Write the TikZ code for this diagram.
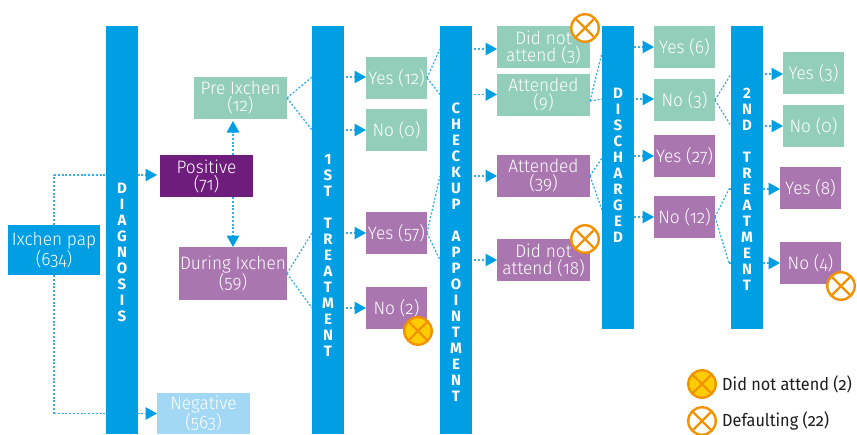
\documentclass[tikz,border=0pt]{standalone}
\usepackage{fontspec}
\setmainfont{Fira Sans}[Numbers=OldStyle,UprightFont={* Light},FakeStretch=0.96]
\newfontfamily\barfont{Fira Sans}[UprightFont={* Bold}]
\newfontfamily\legendfont{Fira Sans}[Numbers=OldStyle,FakeStretch=0.93]
\usetikzlibrary{arrows.meta}
\definecolor{cblue}{HTML}{009FE3}
\definecolor{cline}{HTML}{33B0E8}
\definecolor{cteal}{HTML}{93CEBB}
\definecolor{cpurple}{HTML}{A976B0}
\definecolor{cdark}{HTML}{6F1D7D}
\definecolor{clight}{HTML}{A3D8F5}
\definecolor{corange}{HTML}{F39200}
\definecolor{cyellow}{HTML}{FFCC00}
\definecolor{cink}{HTML}{1D1D1B}
\tikzset{
  x=1pt,y=-1pt,
  wh/.style 2 args={minimum width=#1pt,minimum height=#2pt},
  boxbase/.style={anchor=center,inner sep=0pt,outer sep=0pt,text=white,align=center,
    font=\fontsize{18}{17}\selectfont},
  tealbox/.style={boxbase,fill=cteal},
  purplebox/.style={boxbase,fill=cpurple},
  darkbox/.style={boxbase,fill=cdark},
  bluebox/.style={boxbase,fill=cblue},
  lightbox/.style={boxbase,fill=clight},
  barbox/.style={fill=cblue,inner sep=0pt,outer sep=0pt,minimum width=32pt,text width=32pt},
  bartext/.style={inner sep=0pt,outer sep=0pt,text=white,align=center,
    font=\barfont\fontsize{15}{16}\selectfont},
  link/.style={draw=cline,line width=1.3pt,dash pattern=on 2pt off 1.8pt},
  tip/.style={-{Triangle[length=11.5pt,width=12.5pt,color=cblue]}},
  xcircle/.style={circle,draw=corange,line width=2.4pt,minimum size=27.5pt,inner sep=0pt,
    path picture={\draw[corange,line width=2.2pt]
      (path picture bounding box.north west)--(path picture bounding box.south east)
      (path picture bounding box.north east)--(path picture bounding box.south west);}},
  openx/.style={xcircle,fill=white},
  fullx/.style={xcircle,fill=cyellow},
  legendtext/.style={anchor=west,inner sep=0pt,text=cink,font=\legendfont\fontsize{17.5}{17}\selectfont},
}
\begin{document}
\begin{tikzpicture}
\useasboundingbox (0,0) rectangle (857,434);
% boxes
\node[bluebox,wh={92}{50}] (pap) at (54,250) {Ixchen pap\\(634)};
\node[darkbox,wh={93}{42}] (pos) at (206.5,176) {Positive\\(71)};
\node[tealbox,wh={93}{42}] (pre) at (240.5,98) {Pre Ixchen\\(12)};
\node[purplebox,wh={108}{53}] (dur) at (233,273.5) {During Ixchen\\(59)};
\node[lightbox,wh={93}{41}] (neg) at (203.5,413.5) {Negative\\(563)};
\node[tealbox,wh={61}{42}] (y12) at (396.5,78) {Yes (12)};
\node[tealbox,wh={61}{42}] (n0a) at (396.5,130) {No (0)};
\node[purplebox,wh={61}{42}] (y57) at (396.5,233) {Yes (57)};
\node[purplebox,wh={61}{42}] (n2) at (396.5,308) {No (2)};
\node[tealbox,wh={93}{42}] (dna3) at (543.5,47) {Did not\\attend (3)};
\node[tealbox,wh={93}{42}] (att9) at (543.5,95) {Attended\\(9)};
\node[purplebox,wh={93}{42}] (att39) at (543.5,176) {Attended\\(39)};
\node[purplebox,wh={93}{42}] (dna18) at (543.5,260) {Did not\\attend (18)};
\node[tealbox,wh={61}{42}] (y6) at (684.5,47) {Yes (6)};
\node[tealbox,wh={61}{42}] (n3) at (684.5,100) {No (3)};
\node[purplebox,wh={61}{42}] (y27) at (684.5,156) {Yes (27)};
\node[purplebox,wh={61}{42}] (n12) at (684.5,217) {No (12)};
\node[tealbox,wh={61}{42}] (y3) at (813.5,73) {Yes (3)};
\node[tealbox,wh={61}{42}] (n0b) at (813.5,126) {No (0)};
\node[purplebox,wh={61}{42}] (y8) at (810.5,188) {Yes (8)};
\node[purplebox,wh={61}{42}] (n4) at (810.5,263) {No (4)};
% bend points of the connectors
\coordinate (a1) at (54,175);
\coordinate (a2) at (54,413.5);
\coordinate (tpos) at (157,175);
\coordinate (tneg) at (157,413.5);
\coordinate (tpre) at (233,121);
\coordinate (tdur) at (233,247);
\coordinate (spu) at (233,155);
\coordinate (spd) at (233,197);
\coordinate (b1) at (312,77);
\coordinate (b2) at (312,130);
\coordinate (b3) at (312,233);
\coordinate (b4) at (312,308);
\coordinate (c1) at (440,49);
\coordinate (c2) at (440,94.5);
\coordinate (c3) at (440,176);
\coordinate (c4) at (440,260);
\coordinate (d1) at (602,53);
\coordinate (d2) at (602,99);
\coordinate (d3) at (602,158);
\coordinate (d4) at (602,210);
\coordinate (d1r) at (634,47);
\coordinate (d3r) at (634,156);
\coordinate (d4r) at (634,217);
\coordinate (e1) at (731,74);
\coordinate (e2) at (731,126);
\coordinate (e3) at (729,189);
\coordinate (e4) at (729,263);
% connectors
\draw[link] (pap.north) -- (a1);
\draw[link,tip] (a1) -- (tpos);
\draw[link] (pap.south) -- (a2);
\draw[link,tip] (a2) -- (tneg);
\draw[link,tip] (spu) -- (tpre);
\draw[link,tip] (spd) -- (tdur);
\draw[link] (pre.east) -- (b1);
\draw[link,tip] (b1) -- (y12.west |- b1);
\draw[link] (pre.east) -- (b2);
\draw[link,tip] (b2) -- (n0a.west);
\draw[link] (dur.east) -- (b3);
\draw[link,tip] (b3) -- (y57.west);
\draw[link] (dur.east) -- (b4);
\draw[link,tip] (b4) -- (n2.west);
\draw[link] (y12.east) -- (c1);
\draw[link,tip] (c1) -- (dna3.west |- c1);
\draw[link] (y12.east) -- (c2);
\draw[link,tip] (c2) -- (att9.west |- c2);
\draw[link] (y57.east) -- (c3);
\draw[link,tip] (c3) -- (att39.west);
\draw[link] (y57.east) -- (c4);
\draw[link,tip] (c4) -- (dna18.west);
\draw[link] ([yshift=-6pt]att9.east) -- (d1);
\draw[link,tip] (d1r) -- (y6.west);
\draw[link] ([yshift=-6pt]att9.east) -- (d2);
\draw[link,tip] (d2) -- (n3.west |- d2);
\draw[link] (att39.east) -- (d3);
\draw[link,tip] (d3r) -- (y27.west);
\draw[link] (att39.east) -- (d4);
\draw[link,tip] (d4r) -- (n12.west);
\draw[link] (n3.east) -- (e1);
\draw[link,tip] (e1) -- (y3.west |- e1);
\draw[link] (n3.east) -- (e2);
\draw[link,tip] (e2) -- (n0b.west);
\draw[link] (n12.east) -- (e3);
\draw[link,tip] (e3) -- (y8.west |- e3);
\draw[link] (n12.east) -- (e4);
\draw[link,tip] (e4) -- (n4.west);
% bars, over the connectors
\node[barbox,minimum height=408pt] (diag) at (122,230) {};
\node[barbox,minimum height=408pt] (first) at (328,230) {};
\node[barbox,minimum height=408pt] (check) at (456,230) {};
\node[barbox,minimum height=303pt] (disc) at (618,177.5) {};
\node[barbox,minimum height=303pt] (second) at (747,177.5) {};
\node[bartext] (diagt) at (122,252) {D\\I\\A\\G\\N\\O\\S\\I\\S};
\node[bartext] (firstt) at (328,255) {1\\S\\T\\[16pt]T\\R\\E\\A\\T\\M\\E\\N\\T};
\node[bartext] (checkt) at (456,252) {C\\H\\E\\C\\K\\U\\P\\[16pt]A\\P\\P\\O\\I\\N\\T\\M\\E\\N\\T};
\node[bartext] (disct) at (618,165) {D\\I\\S\\C\\H\\A\\R\\G\\E\\D};
\node[bartext] (secondt) at (747,189) {2\\N\\D\\[16pt]T\\R\\E\\A\\T\\M\\E\\N\\T};
% markers
\node[openx] (m1) at (585,28) {};
\node[openx] (m2) at (585,239) {};
\node[fullx] (m3) at (418,331) {};
\node[openx] (m4) at (841,286) {};
\node[fullx] (l1) at (702,384) {};
\node[openx] (l2) at (702,421) {};
\node[legendtext] (lt1) at (722,384) {Did not attend (2)};
\node[legendtext] (lt2) at (722,421) {Defaulting (22)};
\end{tikzpicture}
\end{document}
